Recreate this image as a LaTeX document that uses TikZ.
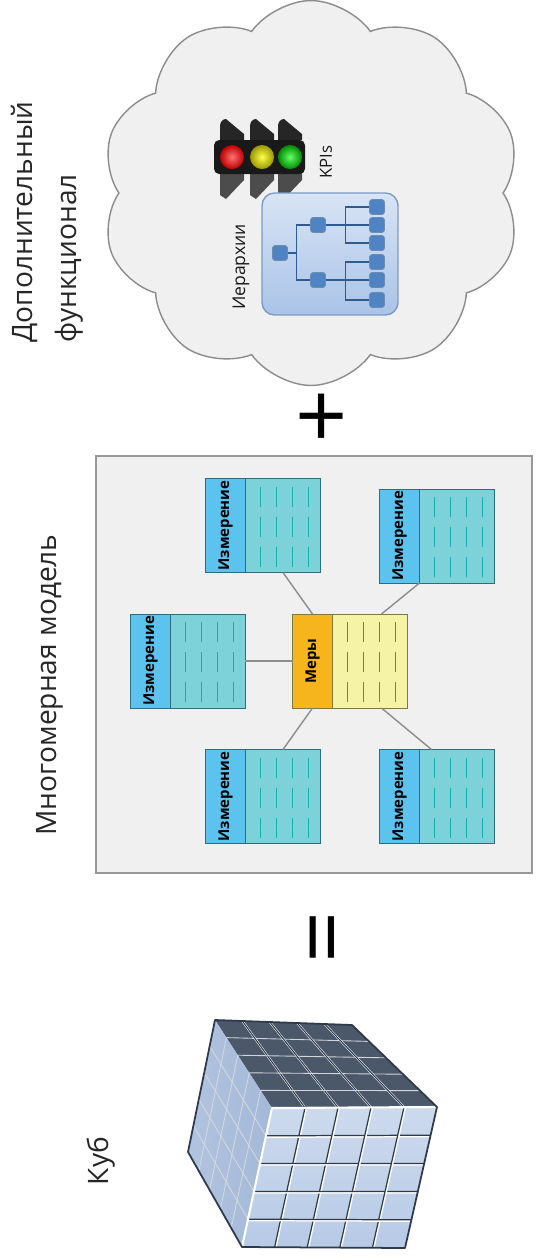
\documentclass[tikz,border=0pt]{standalone}
\usepackage{fontspec}
\setmainfont{Open Sans}
\usepackage{graphicx}
\usepackage{tikz}
\usetikzlibrary{positioning,shapes.symbols,calc}

\definecolor{cloudgray}{HTML}{F0F0F0}
\definecolor{edgegray}{HTML}{8C8C8C}
\definecolor{titlegray}{HTML}{262626}
\definecolor{dimblue}{HTML}{5BC3EE}
\definecolor{dimteal}{HTML}{7DD2D9}
\definecolor{dimedge}{HTML}{2A6E80}
\definecolor{dimdash}{HTML}{17AEB2}
\definecolor{measorange}{HTML}{F6B51C}
\definecolor{measyellow}{HTML}{F5F3A6}
\definecolor{measedge}{HTML}{7E7A3A}
\definecolor{measdash}{HTML}{75804A}
\definecolor{hierfill}{HTML}{A9C3E8}
\definecolor{hieredge}{HTML}{7C9AC6}
\definecolor{hiernode}{HTML}{4F84C4}
\definecolor{hierline}{HTML}{2F5B8E}
\definecolor{cubefront}{HTML}{B7CAE6}
\definecolor{cubeside}{HTML}{A3B9D9}
\definecolor{cubetop}{HTML}{4B586A}
\definecolor{cubeline}{HTML}{2E3A4A}

\begin{document}
\begin{tikzpicture}[x=0.02cm,y=-0.02cm,
    title/.style={rotate=90,font=\fontsize{16}{25}\selectfont,text=titlegray,align=left,inner sep=0pt},
    smalltitle/.style={rotate=90,font=\fontsize{10}{12}\selectfont,text=black!90,inner sep=0pt},
    dimhead/.style={rectangle,draw=dimedge,fill=dimblue,minimum width=0.8cm,minimum height=1.88cm,
      inner sep=0pt,outer sep=0pt,font=\fontsize{8.5}{8.5}\selectfont\bfseries},
    dimbody/.style={rectangle,draw=dimedge,fill=dimteal,minimum width=1.5cm,minimum height=1.88cm,
      inner sep=0pt,outer sep=0pt},
    meashead/.style={dimhead,draw=measedge,fill=measorange},
    measbody/.style={dimbody,draw=measedge,fill=measyellow},
    link/.style={draw=edgegray,line width=0.8pt},
    dashcol/.style={line width=1pt,dash pattern=on 0.4cm off 0.2cm},
    hnode/.style={rectangle,rounded corners=1.5pt,fill=hiernode,draw=hierline!70,minimum size=0.3cm,inner sep=0pt},
    tree/.style={draw=hierline,line width=0.6pt},
    sign/.style={font=\fontsize{52}{52}\selectfont,inner sep=0pt}
  ]
  \useasboundingbox (0,0) rectangle (539,1259);

  % extra functionality
  \node[cloud,cloud puffs=10,cloud puff arc=110,draw=edgegray,fill=cloudgray,line width=0.8pt,
    minimum width=8.4cm,minimum height=7.7cm] (extra) at (311,193) {};
  \node[title] (extratitle) at (47,222) {Дополнительный\\функционал};

  % traffic light
  \foreach \lx in {232,262,290} {
    \fill[black!85] (\lx-12,140) -- (\lx-12,126) to[out=90,in=180] (\lx-6,119) -- (\lx+12,134) -- (\lx+12,140) -- cycle;
    \fill[black!70] (\lx-12,173) -- (\lx-12,195) -- (\lx-6,199) -- (\lx+12,180) -- (\lx+12,173) -- cycle;
  }
  \fill[black!90,rounded corners=3pt] (214,140) rectangle (305,174);
  \shade[inner color=red!55!white,outer color=red!75!black] (232,157) circle[radius=0.24cm];
  \shade[inner color=yellow!70!white,outer color=yellow!60!black] (262,157) circle[radius=0.24cm];
  \shade[inner color=green!60!white,outer color=green!55!black] (290,157) circle[radius=0.24cm];
  \node[smalltitle,font=\fontsize{9.5}{10}\selectfont] (kpi) at (326,162) {KPIs};

  % hierarchy
  \node[rectangle,rounded corners=0.25cm,draw=hieredge,line width=0.8pt,top color=hierfill!45!white,bottom color=hierfill,
    minimum width=2.72cm,minimum height=2.44cm] (hier) at (330,254) {};
  \node[smalltitle] (hiertitle) at (241,267) {Иерархии};
  \node[hnode] (hroot) at (280,253) {};
  \node[hnode] (hm1) at (318,225) {};
  \node[hnode] (hm2) at (318,280) {};
  \foreach \ly [count=\i] in {207,225,243,262,280,300}
    \node[hnode] (hl\i) at (377,\ly) {};
  \draw[tree] (hroot.east) -- ++(9,0) |- (hm1.west);
  \draw[tree] (hroot.east) -- ++(9,0) |- (hm2.west);
  \foreach \i in {1,2,3}
    \draw[tree] (hm1.east) -- ++(20,0) |- (hl\i.west);
  \foreach \i in {4,5,6}
    \draw[tree] (hm2.east) -- ++(20,0) |- (hl\i.west);

  \node[sign] (plus) at (322,421) {+};

  % multidimensional model
  \node[rectangle,draw=edgegray!90,fill=cloudgray,line width=1pt,minimum width=8.72cm,minimum height=8.34cm] (model) at (314,664.5) {};
  \node[title] (modeltitle) at (50,685) {Многомерная модель};

  \node[dimhead] (d1h) at (225.5,525.5) {\rotatebox{90}{Измерение}};
  \node[dimbody,right=0pt of d1h] (d1b) {};
  \node[dimhead] (d2h) at (399.5,536) {\rotatebox{90}{Измерение}};
  \node[dimbody,right=0pt of d2h] (d2b) {};
  \node[dimhead] (d3h) at (150.5,661) {\rotatebox{90}{Измерение}};
  \node[dimbody,right=0pt of d3h] (d3b) {};
  \node[meashead] (mrh) at (312.5,661) {\rotatebox{90}{Меры}};
  \node[measbody,right=0pt of mrh] (mrb) {};
  \node[dimhead] (d4h) at (225.5,796.5) {\rotatebox{90}{Измерение}};
  \node[dimbody,right=0pt of d4h] (d4b) {};
  \node[dimhead] (d5h) at (399.5,796.5) {\rotatebox{90}{Измерение}};
  \node[dimbody,right=0pt of d5h] (d5b) {};

  \foreach \t in {d1,d2,d3,d4,d5}
    \foreach \dx in {15,31,47,63}
      \draw[dashcol,draw=dimdash] ($(\t b.north west)+(\dx,8)$) -- ++(0,80);
  \foreach \dx in {15,31,47,63}
    \draw[dashcol,draw=measdash] ($(mrb.north west)+(\dx,8)$) -- ++(0,80);

  \draw[link] (d1b.south) -- (mrh.north);
  \draw[link] (d2b.south west) -- ([xshift=0.23cm]mrb.north);
  \draw[link] (d3b.east) -- (mrh.west);
  \draw[link] (mrh.south) -- (d4b.north);
  \draw[link] ([xshift=0.23cm]mrb.south) -- ([xshift=0.24cm]d5b.north west);

  \node[sign,rotate=90] (equals) at (332,937) {=};

  % cube
  \coordinate (A) at (215,1020);
  \coordinate (B) at (352,1025);
  \coordinate (C) at (437,1107);
  \coordinate (D) at (272,1108);
  \coordinate (E) at (242,1247);
  \coordinate (F) at (405,1248);
  \coordinate (G) at (188,1152);
  \fill[cubetop] (A) -- (B) -- (C) -- (D) -- cycle;
  \shade[left color=cubeside!85!white,right color=cubeside] (A) -- (D) -- (E) -- (G) -- cycle;
  \shade[top color=cubefront!70!white,bottom color=cubefront] (D) -- (C) -- (F) -- (E) -- cycle;
  \foreach \i in {1,...,4} {
    \draw[white!75!cubetop,line width=0.5pt] ($(A)!\i/5!(D)$) -- ($(B)!\i/5!(C)$);
    \draw[white!80!cubeline,line width=0.5pt] ($(A)!\i/5!(D)$) -- ($(G)!\i/5!(E)$);
    \draw[white!80!cubeline,line width=0.5pt] ($(A)!\i/5!(G)$) -- ($(D)!\i/5!(E)$);
    \draw[white!70,line width=1.2pt] ($(A)!\i/5!(B)$) -- ($(D)!\i/5!(C)$);
    \draw[cubeline,line width=0.6pt] ($(A)!\i/5!(B)$) -- ($(D)!\i/5!(C)$);
    \draw[white,line width=1.2pt] ([xshift=0.6pt]$(D)!\i/5!(C)$) -- ([xshift=0.6pt]$(E)!\i/5!(F)$);
    \draw[cubeline,line width=0.7pt] ($(D)!\i/5!(C)$) -- ($(E)!\i/5!(F)$);
    \draw[white,line width=1.2pt] ([yshift=-0.6pt]$(D)!\i/5!(E)$) -- ([yshift=-0.6pt]$(C)!\i/5!(F)$);
    \draw[cubeline,line width=0.7pt] ($(D)!\i/5!(E)$) -- ($(C)!\i/5!(F)$);
  }
  \draw[white,line width=1.2pt] (E) -- (D) -- (C);
  \draw[cubeline,line width=1pt,line join=round] (A) -- (B) -- (C) -- (F) -- (E) -- (G) -- cycle;
  \node[title] (cubetitle) at (101,1161) {Куб};
\end{tikzpicture}
\end{document}
